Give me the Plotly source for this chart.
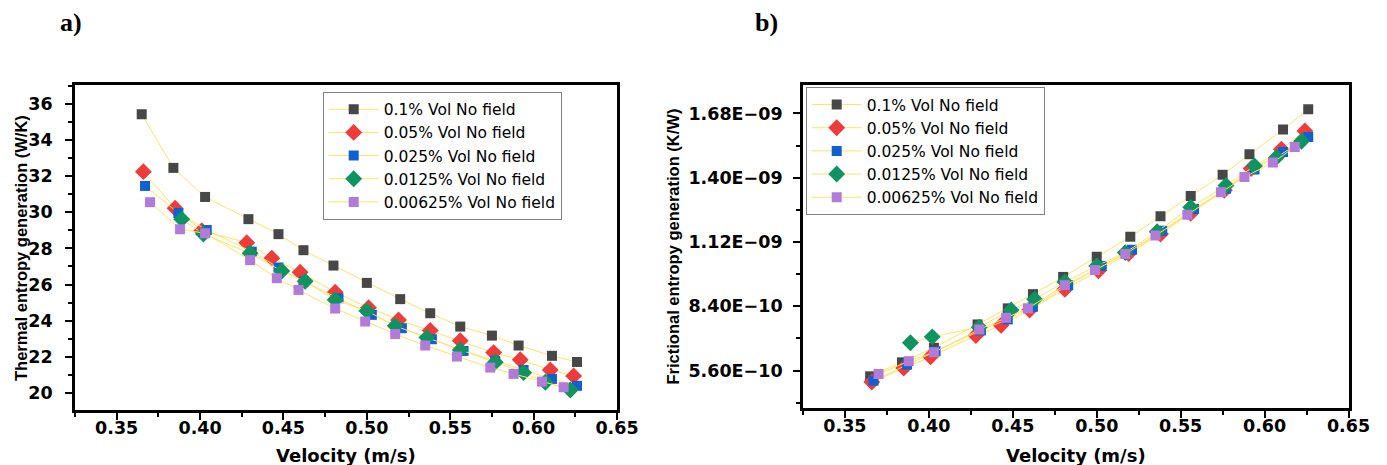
import plotly.graph_objects as go

# ---------------- data ----------------
series_names = ["0.1% Vol No field", "0.05% Vol No field", "0.025% Vol No field",
                "0.0125% Vol No field", "0.00625% Vol No field"]

vel_01 = [0.365, 0.384, 0.403, 0.429, 0.447, 0.462, 0.480, 0.500, 0.520, 0.538, 0.556, 0.575, 0.591, 0.611, 0.626]
vel_005 = [0.366, 0.385, 0.401, 0.428, 0.443, 0.460, 0.481, 0.501, 0.519, 0.538, 0.556, 0.576, 0.592, 0.610, 0.624]
vel_0025 = [0.367, 0.387, 0.404, 0.431, 0.447, 0.462, 0.483, 0.503, 0.521, 0.539, 0.558, 0.577, 0.594, 0.611, 0.626]
vel_00125 = [0.389, 0.402, 0.430, 0.449, 0.463, 0.481, 0.500, 0.517, 0.536, 0.556, 0.577, 0.594, 0.607, 0.622]
vel_000625 = [0.370, 0.388, 0.403, 0.430, 0.446, 0.459, 0.481, 0.499, 0.517, 0.535, 0.554, 0.574, 0.588, 0.605, 0.618]

thermal_01 = [35.43, 32.46, 30.85, 29.62, 28.79, 27.90, 27.05, 26.09, 25.19, 24.41, 23.67, 23.17, 22.62, 22.05, 21.71]
thermal_005 = [32.25, 30.22, 28.98, 28.32, 27.46, 26.68, 25.57, 24.72, 24.04, 23.45, 22.89, 22.23, 21.83, 21.27, 20.94]
thermal_0025 = [31.46, 29.96, 29.02, 27.82, 26.94, 26.16, 25.24, 24.32, 23.58, 22.97, 22.32, 21.77, 21.27, 20.77, 20.39]
thermal_00125 = [29.62, 28.80, 27.73, 26.75, 26.18, 25.15, 24.54, 23.71, 23.06, 22.38, 21.70, 21.12, 20.59, 20.16]
thermal_000625 = [30.56, 29.06, 28.84, 27.35, 26.35, 25.70, 24.67, 23.95, 23.26, 22.62, 22.01, 21.40, 21.05, 20.62, 20.31]

fric_01 = [5.35e-10, 5.96e-10, 6.59e-10, 7.61e-10, 8.31e-10, 8.93e-10, 9.68e-10, 1.056e-9, 1.143e-9, 1.232e-9, 1.320e-9, 1.413e-9, 1.502e-9, 1.610e-9, 1.698e-9]
fric_005 = [5.10e-10, 5.71e-10, 6.20e-10, 7.13e-10, 7.57e-10, 8.24e-10, 9.14e-10, 9.95e-10, 1.070e-9, 1.155e-9, 1.245e-9, 1.345e-9, 1.440e-9, 1.524e-9, 1.604e-9]
fric_0025 = [5.16e-10, 5.86e-10, 6.44e-10, 7.35e-10, 7.83e-10, 8.38e-10, 9.32e-10, 1.016e-9, 1.086e-9, 1.169e-9, 1.264e-9, 1.352e-9, 1.436e-9, 1.512e-9, 1.578e-9]
fric_00125 = [6.81e-10, 7.07e-10, 7.49e-10, 8.24e-10, 8.71e-10, 9.46e-10, 1.016e-9, 1.074e-9, 1.165e-9, 1.271e-9, 1.366e-9, 1.451e-9, 1.488e-9, 1.559e-9]
fric_000625 = [5.45e-10, 6.01e-10, 6.40e-10, 7.39e-10, 7.90e-10, 8.31e-10, 9.32e-10, 9.98e-10, 1.068e-9, 1.148e-9, 1.239e-9, 1.337e-9, 1.403e-9, 1.466e-9, 1.534e-9]

x_ticks = [0.35, 0.40, 0.45, 0.50, 0.55, 0.60, 0.65]
x_ticktext = ["0.35", "0.40", "0.45", "0.50", "0.55", "0.60", "0.65"]
thermal_ticks = [20, 22, 24, 26, 28, 30, 32, 34, 36]
fric_ticks = [5.6e-10, 8.4e-10, 1.12e-9, 1.40e-9, 1.68e-9]
fric_ticktext = ["5.60E\u221210", "8.40E\u221210", "1.12E\u221209", "1.40E\u221209", "1.68E\u221209"]
fric_minor = [4.2e-10, 7.0e-10, 9.8e-10, 1.26e-9, 1.54e-9]

# ---------------- styles ----------------
colors = ["#474747", "#f03b3b", "#1160d2", "#0f9461", "#b27bd9"]
symbols = ["square", "diamond", "square", "diamond", "square"]
sizes = [10, 13, 10, 13, 10]
line_color = "rgb(255,226,100)"

velocities = [vel_01, vel_005, vel_0025, vel_00125, vel_000625]
thermal = [thermal_01, thermal_005, thermal_0025, thermal_00125, thermal_000625]
fric = [fric_01, fric_005, fric_0025, fric_00125, fric_000625]

W, H = 1387, 465
fig = go.Figure()

for i in range(5):
    fig.add_trace(go.Scatter(
        x=velocities[i], y=thermal[i], mode="lines+markers", name=series_names[i],
        line=dict(color=line_color, width=1),
        marker=dict(symbol=symbols[i], size=sizes[i], color=colors[i], line=dict(width=0)),
        xaxis="x", yaxis="y", legend="legend"))
for i in range(5):
    fig.add_trace(go.Scatter(
        x=velocities[i], y=fric[i], mode="lines+markers", name=series_names[i],
        line=dict(color=line_color, width=1),
        marker=dict(symbol=symbols[i], size=sizes[i], color=colors[i], line=dict(width=0)),
        xaxis="x2", yaxis="y2", legend="legend2"))

tick_font = dict(family="DejaVu Sans", size=17.5, color="black", weight="bold")
axis_common = dict(showline=True, linecolor="black", linewidth=2.8, mirror=True,
                   ticks="outside", ticklen=7, tickwidth=2, tickcolor="black",
                   showgrid=False, zeroline=False, tickfont=tick_font, automargin=False)

xaxis_common = dict(axis_common, range=[0.325, 0.65], tickmode="array", tickvals=x_ticks,
                    ticktext=x_ticktext, ticklabelstandoff=-7,
                    minor=dict(tickmode="linear", tick0=0.325, dtick=0.05, ticks="outside",
                               ticklen=4, tickwidth=1.5, tickcolor="black"))

legend_font = dict(family="DejaVu Sans", size=15.5, color="black")


def label(text, px, py, size, family, angle=0):
    return dict(text=text, x=px / W, y=1 - py / H, xref="paper", yref="paper",
                xanchor="center", yanchor="middle", showarrow=False, textangle=angle,
                font=dict(family=family, size=size, color="black", weight="bold"))


fig.update_layout(
    width=W, height=H,
    margin=dict(l=0, r=0, t=0, b=0, pad=0, autoexpand=False),
    paper_bgcolor="white", plot_bgcolor="white",
    showlegend=True,
    xaxis=dict(xaxis_common, domain=[75 / W, 617 / W], anchor="y"),
    yaxis=dict(axis_common, domain=[1 - 410 / H, 1 - 85 / H], anchor="x",
               range=[19.05, 37.05], tickmode="array", tickvals=thermal_ticks,
               ticklabelstandoff=9,
               minor=dict(tickmode="linear", tick0=19, dtick=2, ticks="outside",
                          ticklen=4, tickwidth=1.5, tickcolor="black")),
    xaxis2=dict(xaxis_common, domain=[803 / W, 1348.5 / W], anchor="y2"),
    yaxis2=dict(axis_common, domain=[1 - 408 / H, 1 - 85 / H], anchor="x2",
                range=[3.97e-10, 1.804e-9], tickmode="array", tickvals=fric_ticks,
                ticktext=fric_ticktext, ticklabelstandoff=7,
                minor=dict(tickmode="array", tickvals=fric_minor, ticks="outside",
                           ticklen=4, tickwidth=1.5, tickcolor="black")),
    legend=dict(x=322.7 / W, y=1 - 91.7 / H, xanchor="left", yanchor="top",
                bgcolor="white", bordercolor="#808080", borderwidth=1,
                font=legend_font, itemwidth=50, tracegroupgap=0),
    legend2=dict(x=805.7 / W, y=1 - 87 / H, xanchor="left", yanchor="top",
                 bgcolor="white", bordercolor="#808080", borderwidth=1,
                 font=legend_font, itemwidth=50, tracegroupgap=0),
    annotations=[
        label("Thermal entropy generation (W/K)", 21, 248, 16.5, "Liberation Sans", -90),
        label("Frictional entropy generation (K/W)", 672, 246.5, 16.5, "Liberation Sans", -90),
        label("Velocity (m/s)", 346, 455, 18, "DejaVu Sans"),
        label("Velocity (m/s)", 1075.5, 455, 18, "DejaVu Sans"),
        label("a)", 71, 23, 26, "Liberation Serif"),
        label("b)", 766, 22, 26, "Liberation Serif"),
    ],
)

fig.write_html("out.html")
